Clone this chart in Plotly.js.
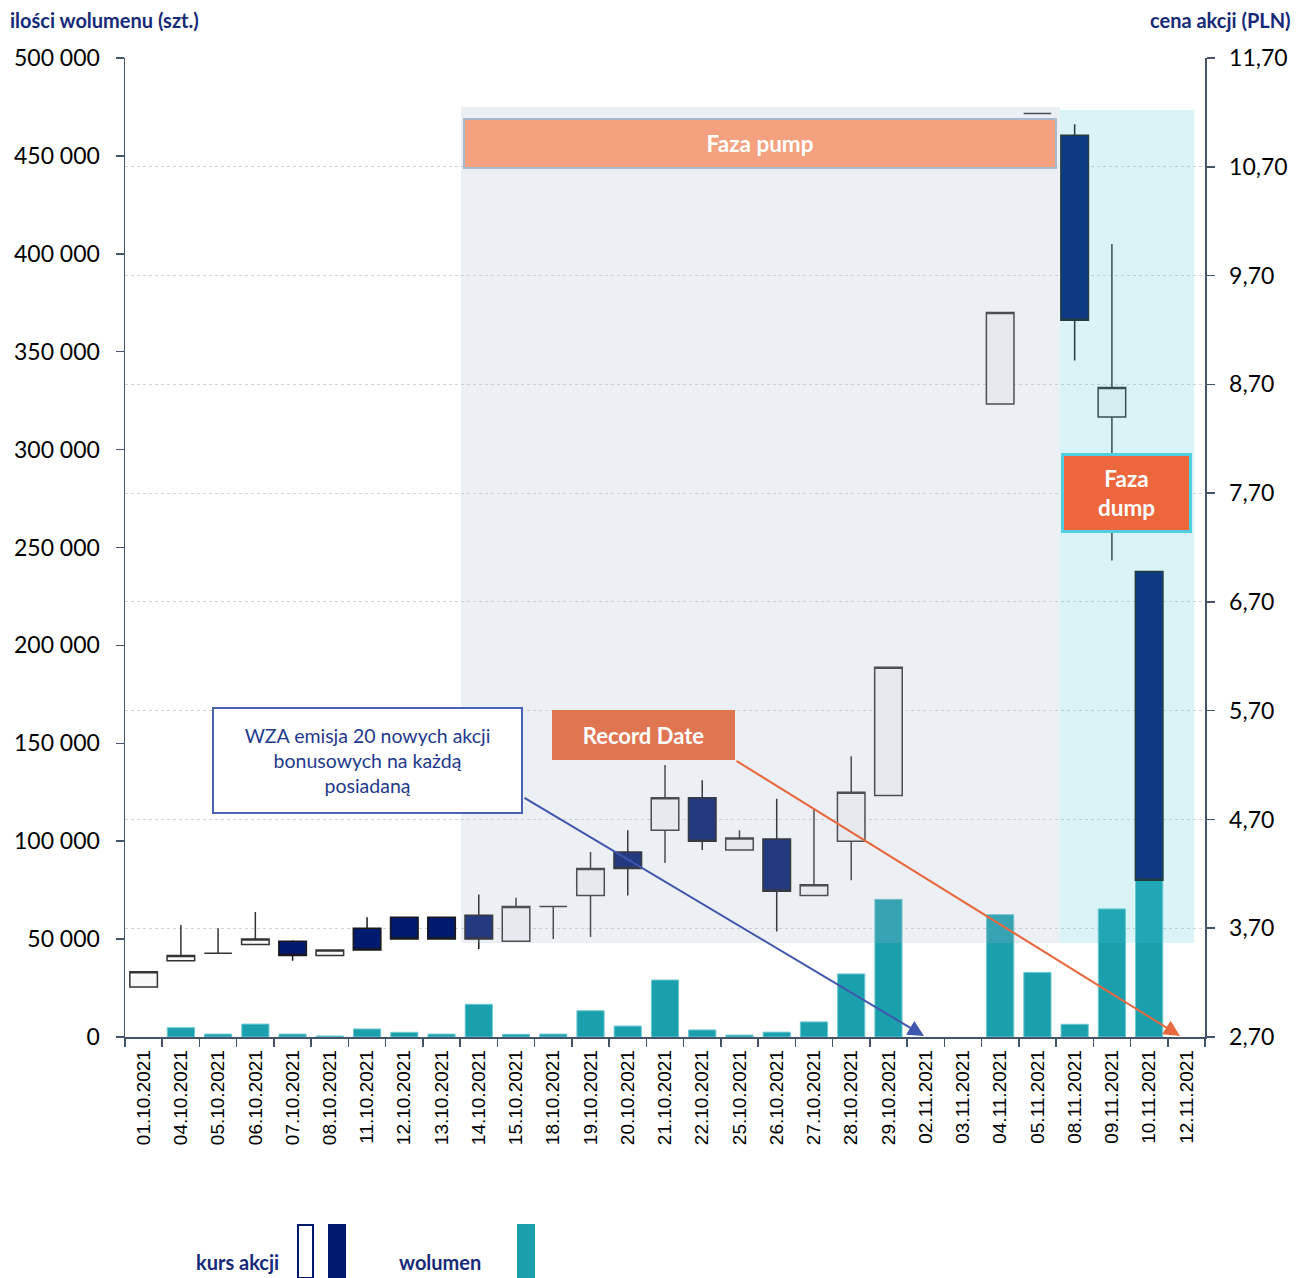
<!DOCTYPE html>
<html><head><meta charset="utf-8">
<script src="https://cdn.plot.ly/plotly-3.0.1.min.js"></script>
<style>html,body{margin:0;padding:0;background:#fff}#chart{width:1298px;height:1278px}</style>
</head><body><div id="chart"></div>
<script>
const dates = ['01.10.2021','04.10.2021','05.10.2021','06.10.2021','07.10.2021','08.10.2021','11.10.2021','12.10.2021','13.10.2021','14.10.2021','15.10.2021','18.10.2021','19.10.2021','20.10.2021','21.10.2021','22.10.2021','25.10.2021','26.10.2021','27.10.2021','28.10.2021','29.10.2021','02.11.2021','03.11.2021','04.11.2021','05.11.2021','08.11.2021','09.11.2021','10.11.2021','12.11.2021'];
const openP  = [3.16,3.40,3.47,3.55,3.58,3.45,3.70,3.80,3.80,3.82,3.58,3.90,4.00,4.40,4.60,4.90,4.42,4.52,4.00,4.50,4.92,null,null,8.52,11.19,10.99,8.40,6.98,null];
const highP  = [3.30,3.73,3.70,3.85,3.59,3.50,3.80,3.80,3.80,4.01,3.98,3.90,4.40,4.60,5.20,5.06,4.60,4.89,4.80,5.28,6.10,null,null,9.36,11.19,11.09,9.99,6.98,null];
const lowP   = [3.16,3.40,3.47,3.55,3.40,3.45,3.50,3.60,3.60,3.51,3.58,3.60,3.62,4.00,4.30,4.42,4.42,3.67,4.00,4.14,4.92,null,null,8.52,11.19,8.92,7.08,4.14,null];
const closeP = [3.30,3.45,3.47,3.60,3.45,3.50,3.50,3.60,3.60,3.60,3.90,3.90,4.25,4.25,4.90,4.50,4.53,4.04,4.10,4.95,6.10,null,null,9.36,11.19,9.29,8.67,4.14,null];
const volume = [null,4750,1500,6600,1500,500,4100,2400,1500,16700,1400,1500,13400,5600,29100,3600,1000,2500,7700,32200,70300,null,null,62500,33000,6500,65400,80200,null];

const volTickVals = [0,50000,100000,150000,200000,250000,300000,350000,400000,450000,500000];
const priceTickVals = [2.7,3.7,4.7,5.7,6.7,7.7,8.7,9.7,10.7,11.7];

const idx = dates.map((d,i)=>i).filter(i=>openP[i]!==null);

const navy = '#001a6e';
const teal = '#1a9fad';
const axisCol = '#44546a';
const titleCol = '#162a78';

const traces = [
  {type:'bar', x:dates, y:volume, yaxis:'y', marker:{color:teal, line:{color:'#6cc8d1', width:1}}, hoverinfo:'skip'},
  {type:'candlestick', x:idx.map(i=>dates[i]), open:idx.map(i=>openP[i]), high:idx.map(i=>highP[i]),
   low:idx.map(i=>lowP[i]), close:idx.map(i=>closeP[i]), yaxis:'y2', whiskerwidth:0,
   increasing:{fillcolor:'#f8f8f8', line:{color:'#333333', width:1.5}},
   decreasing:{fillcolor:navy, line:{color:'#1a1a1a', width:1.5}}}
];

function px(x){return (x-125)/1080;}
function py(y){return (1037-y)/979;}

const layout = {
  width:1298, height:1278,
  margin:{l:125, r:93, t:58, b:241},
  paper_bgcolor:'#fff', plot_bgcolor:'#fff',
  separators:', ',
  showlegend:false,
  font:{family:'Lato', color:'#000'},
  bargap:0.27, boxgap:0.26, boxgroupgap:0,
  xaxis:{type:'category', categoryorder:'array', categoryarray:dates, tickson:'boundaries',
    ticks:'outside', ticklen:8, tickcolor:axisCol, tickwidth:1.5, tickangle:-90,
    tickfont:{family:'Liberation Sans', size:19, color:'#000'}, ticklabelstandoff:4,
    showline:true, linecolor:axisCol, linewidth:1.5, showgrid:false, rangeslider:{visible:false}, fixedrange:true},
  yaxis:{range:[0,500000], tickvals:volTickVals, tickformat:',d', ticks:'outside', ticklen:8, tickcolor:axisCol, tickwidth:1.5,
    showline:true, linecolor:axisCol, linewidth:1.5, showgrid:false, zeroline:false,
    tickfont:{family:'Lato', size:23, color:'#000'}, ticklabelstandoff:11, fixedrange:true},
  yaxis2:{overlaying:'y', side:'right', range:[2.7,11.7], tickvals:priceTickVals, tickformat:'.2f', ticks:'outside', ticklen:8,
    tickcolor:axisCol, tickwidth:1.5, showline:true, linecolor:axisCol, linewidth:1.5,
    showgrid:true, gridcolor:'#d4d4d4', gridwidth:1, griddash:'dot', zeroline:false,
    tickfont:{family:'Lato', size:23, color:'#000'}, ticklabelstandoff:10, fixedrange:true},
  shapes:[
    {type:'rect', layer:'above', xref:'paper', yref:'paper', x0:px(461), x1:px(1060), y0:py(943), y1:py(107),
     fillcolor:'rgba(163,178,197,0.21)', line:{width:0}},
    {type:'rect', layer:'above', xref:'paper', yref:'paper', x0:px(1060), x1:px(1194), y0:py(943), y1:py(110),
     fillcolor:'rgba(65,195,215,0.2)', line:{width:0}},
    {type:'rect', xref:'paper', yref:'paper', x0:px(298), x1:px(313), y0:py(1278), y1:py(1225),
     fillcolor:'#fff', line:{color:navy, width:2}},
    {type:'rect', xref:'paper', yref:'paper', x0:px(328), x1:px(346), y0:py(1278), y1:py(1224),
     fillcolor:navy, line:{width:0}},
    {type:'rect', xref:'paper', yref:'paper', x0:px(517), x1:px(535), y0:py(1278), y1:py(1224),
     fillcolor:teal, line:{width:0}}
  ],
  annotations:[
    {xref:'paper', yref:'paper', x:px(760), y:py(143.5), text:'<b>Faza pump</b>', showarrow:false,
     width:590, height:47, bgcolor:'#f4a17f', bordercolor:'#aab7cf', borderwidth:2, borderpad:0,
     font:{family:'Lato', size:22.5, color:'#fff'}, xanchor:'center', yanchor:'middle'},
    {xref:'paper', yref:'paper', x:px(1126.5), y:py(493), text:'<b>Faza<br>dump</b>', showarrow:false,
     width:125, height:74, bgcolor:'#ec683c', bordercolor:'#50cfe0', borderwidth:3, borderpad:0,
     font:{family:'Lato', size:22.5, color:'#fff'}, xanchor:'center', yanchor:'middle'},
    {xref:'paper', yref:'paper', x:px(643.5), y:py(735), text:'<b>Record Date</b>', showarrow:false,
     width:183, height:50, bgcolor:'#e07552', borderwidth:0, borderpad:0,
     font:{family:'Lato', size:22, color:'#fff'}, xanchor:'center', yanchor:'middle'},
    {xref:'paper', yref:'paper', x:px(367.5), y:py(763.5), text:'WZA emisja 20 nowych akcji<br>bonusowych na każdą<br>posiadaną', showarrow:false,
     width:307, height:103, bgcolor:'#fff', bordercolor:'#4a63b3', borderwidth:2, borderpad:0, yshift:3,
     font:{family:'Lato', size:19.5, color:'#1f3a8c'}, xanchor:'center', yanchor:'middle'},
    {xref:'paper', yref:'paper', x:px(924), y:py(1036), text:'', showarrow:true, axref:'pixel', ayref:'pixel',
     ax:523-924, ay:797-1036, arrowcolor:'#3f56ad', arrowwidth:2, arrowhead:2, arrowsize:1.6, standoff:0},
    {xref:'paper', yref:'paper', x:px(1180), y:py(1036), text:'', showarrow:true, axref:'pixel', ayref:'pixel',
     ax:735-1180, ay:760-1036, arrowcolor:'#e8683f', arrowwidth:2, arrowhead:2, arrowsize:1.6, standoff:0},
    {xref:'paper', yref:'paper', x:px(8), y:py(20), text:'<b>ilości wolumenu (szt.)</b>', showarrow:false,
     xanchor:'left', yanchor:'middle', font:{family:'Lato', size:20, color:titleCol}},
    {xref:'paper', yref:'paper', x:px(1293), y:py(20), text:'<b>cena akcji (PLN)</b>', showarrow:false,
     xanchor:'right', yanchor:'middle', font:{family:'Lato', size:20, color:titleCol}},
    {xref:'paper', yref:'paper', x:px(281), y:py(1262), text:'<b>kurs akcji</b>', showarrow:false,
     xanchor:'right', yanchor:'middle', font:{family:'Lato', size:20, color:titleCol}},
    {xref:'paper', yref:'paper', x:px(397), y:py(1262), text:'<b>wolumen</b>', showarrow:false,
     xanchor:'left', yanchor:'middle', font:{family:'Lato', size:20, color:titleCol}}
  ]
};

Plotly.newPlot('chart', traces, layout, {staticPlot:true, displayModeBar:false});
</script></body></html>
